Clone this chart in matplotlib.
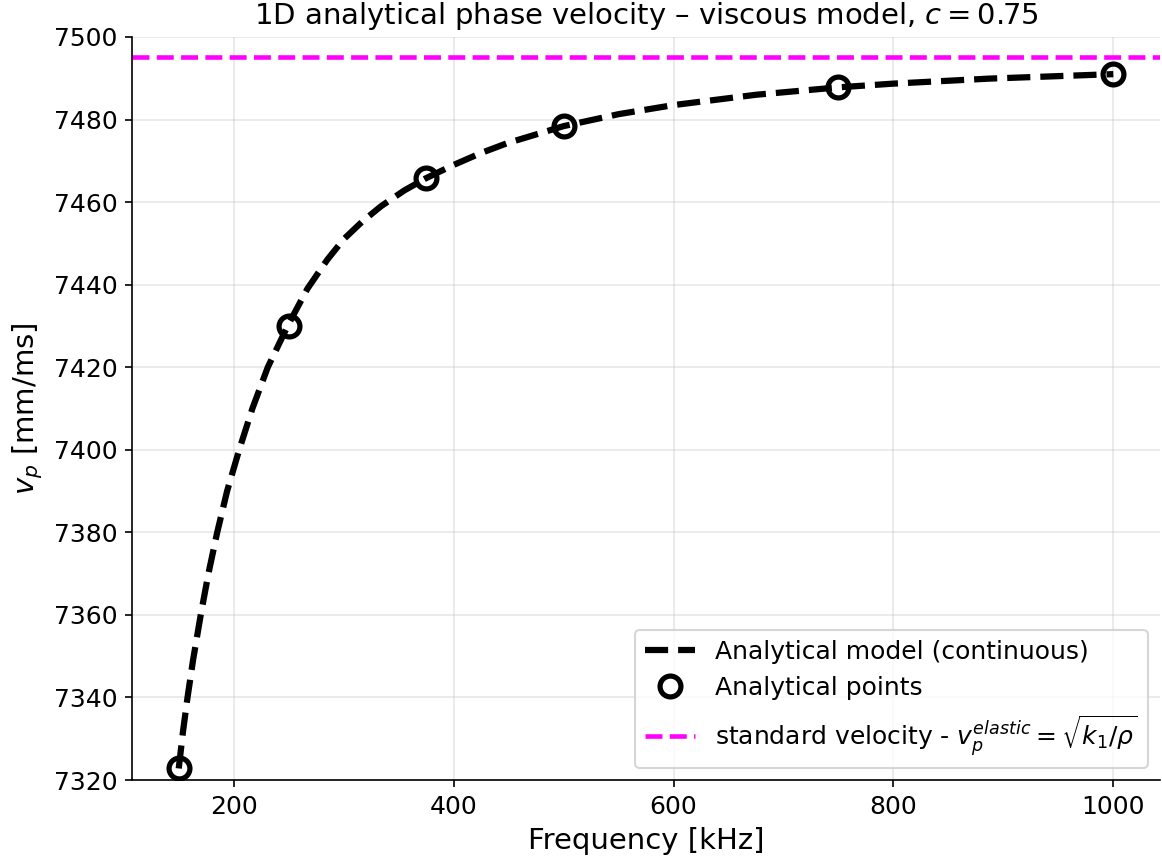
import matplotlib
matplotlib.use("Agg")
import matplotlib.pyplot as plt

# values
freq_curve = [150, 154, 158, 163, 170, 177, 185, 194, 205, 217, 231, 250,
              267, 285, 300, 317, 334, 355, 375, 400, 425, 449, 500, 550,
              600, 675, 750, 800, 886, 1000]
vp_curve = [7322.8, 7332, 7340, 7349, 7360, 7370, 7380, 7390, 7400, 7410,
            7420, 7430.5, 7439, 7446, 7451, 7455.3, 7459.0, 7462.8, 7465.8,
            7469, 7471.9, 7474.3, 7478.4, 7481.3, 7483.5, 7486.0, 7487.8,
            7488.7, 7489.9, 7491.0]

freq_points = [150, 250, 375, 500, 750, 1000]
vp_points = [7322.8, 7430.0, 7465.8, 7478.5, 7487.8, 7491.0]

vp_elastic = 7495.1

fig = plt.figure(figsize=(1162 / 150, 858 / 150), dpi=150)
ax = fig.add_axes([0.1136, 0.0909, 0.8847, 0.866])

ax.plot(freq_curve, vp_curve, linestyle="--", color="black", linewidth=3.0,
        label="Analytical model (continuous)")
ax.plot(freq_points, vp_points, linestyle="none", marker="o", markersize=10,
        markerfacecolor="none", markeredgecolor="black", markeredgewidth=2.5,
        label="Analytical points")
ax.axhline(vp_elastic, color="magenta", linestyle="--", linewidth=2.2,
           label=r"standard velocity - $v_p^{elastic} = \sqrt{k_1/\rho}$")

ax.set_ylim(7320, 7500)
ax.set_xlabel("Frequency [kHz]", fontsize=14)
ax.set_ylabel(r"$v_p$ [mm/ms]", fontsize=14)
ax.set_title(r"1D analytical phase velocity – viscous model, $c = 0.75$", fontsize=14)
ax.tick_params(labelsize=12)
ax.grid(True, alpha=0.3)
ax.spines["top"].set_visible(False)
ax.spines["right"].set_visible(False)
ax.legend(loc="lower right", fontsize=12)

fig.savefig("out.png", dpi=150)
